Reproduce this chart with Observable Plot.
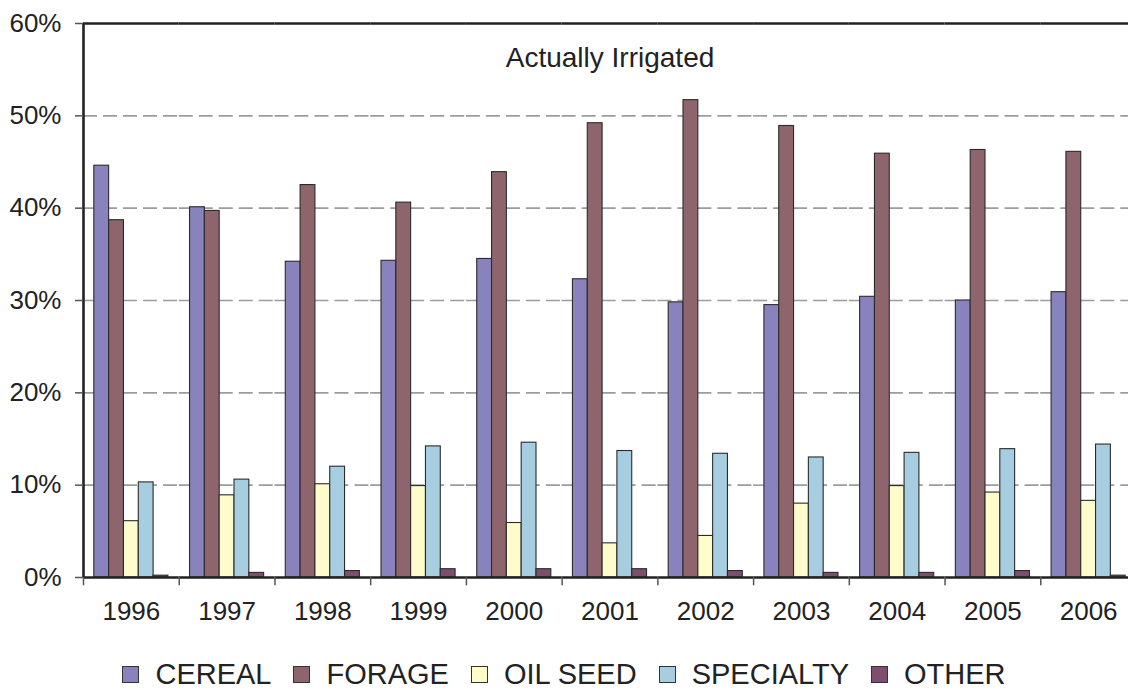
<!DOCTYPE html>
<html>
<head>
<meta charset="utf-8">
<script src="https://cdn.jsdelivr.net/npm/d3@7"></script>
<script src="https://cdn.jsdelivr.net/npm/@observablehq/plot@0.6"></script>
<style>
  html, body { margin: 0; padding: 0; background: #fff; overflow: hidden; width: 1128px; height: 690px; }
  #chart { width: 1128px; height: 640px; overflow: hidden; }
  #chart svg { display: block; max-width: none !important; }
  #legend {
    display: flex; justify-content: center; align-items: center;
    font-family: "Liberation Sans", Arial, sans-serif; font-size: 29px; line-height: 29px; color: #222;
    height: 30px; margin-top: 19px; padding-left: 0px;
  }
  .item { display: flex; align-items: center; margin: 0 11px; }
  .sw { width: 15px; height: 15px; border: 1px solid #333; margin-right: 16px; margin-top: 1px; }
</style>
</head>
<body>
<div id="chart"></div>
<div id="legend"></div>
<script>
// ---- data ----
const years = ["1996","1997","1998","1999","2000","2001","2002","2003","2004","2005","2006"];
const categories = ["CEREAL","FORAGE","OIL SEED","SPECIALTY","OTHER"];
const cereal    = [44.6, 40.1, 34.2, 34.3, 34.5, 32.3, 29.8, 29.5, 30.4, 30.0, 30.9];
const forage    = [38.7, 39.7, 42.5, 40.6, 43.9, 49.2, 51.7, 48.9, 45.9, 46.3, 46.1];
const oilSeed   = [6.1, 8.9, 10.1, 9.9, 5.9, 3.7, 4.5, 8.0, 9.9, 9.2, 8.3];
const specialty = [10.3, 10.6, 12.0, 14.2, 14.6, 13.7, 13.4, 13.0, 13.5, 13.9, 14.4];
const other     = [0.2, 0.5, 0.7, 0.9, 0.9, 0.9, 0.7, 0.5, 0.5, 0.7, 0.2];
const yTicks = [0, 10, 20, 30, 40, 50, 60];
const gridTicks = [10, 20, 30, 40, 50];
const title = "Actually Irrigated";

// ---- styles ----
const colors = ["#8882bd", "#8e656d", "#fffbcb", "#a6cee0", "#7e4e6e"];
const W = 1136, H = 640, mL = 83, mR = 0, mT = 23, mB = 63;
const padOuter = 0.73;
const fxStep = (W - mL - mR) / years.length;
const xStep = fxStep / (categories.length + 2 * padOuter);
const edgeDx = -(padOuter * xStep + xStep / 2);
const tickBelow = -0.9;

const series = [cereal, forage, oilSeed, specialty, other];
const data = years.flatMap((year, i) => categories.map((c, j) => ({year, category: c, value: series[j][i]})));

const chart = Plot.plot({
  width: W, height: H,
  marginLeft: mL, marginRight: mR, marginTop: mT, marginBottom: mB,
  style: {fontFamily: "Liberation Sans, Arial, sans-serif", fontSize: "26px", color: "#222", background: "#fff", overflow: "visible", maxWidth: "none"},
  fx: {domain: years, padding: 0, round: false, axis: null, label: null},
  x: {domain: categories, paddingInner: 0, paddingOuter: padOuter, align: 0.5, round: false, axis: null},
  y: {domain: [0, 60], axis: null, label: null},
  color: {domain: categories, range: colors},
  marks: [
    Plot.gridY({ticks: gridTicks, stroke: "#9c9c9c", strokeOpacity: 1, strokeWidth: 1.6, strokeDasharray: "14,6"}),
    Plot.barY(data, {fx: "year", x: "category", y: "value", fill: "category", stroke: "#2b2b2b", strokeWidth: 1.1}),
    Plot.ruleY([0], {stroke: "#222", strokeWidth: 2.6}),
    Plot.ruleY([60], {stroke: "#222", strokeWidth: 2.6}),
    Plot.ruleX(years, {fx: d => d, x: () => categories[0], y1: 0, y2: tickBelow, dx: edgeDx, stroke: "#555", strokeWidth: 1.5}),
    Plot.ruleX([years[0]], {fx: d => d, x: () => categories[0], y1: 0, y2: 60, dx: edgeDx, stroke: "#222", strokeWidth: 2.6}),
    Plot.axisY({ticks: yTicks, tickFormat: d => d + "%", tickSize: 8, tickPadding: 14, fontSize: 26, stroke: "#555", strokeWidth: 1.5, label: null}),
    Plot.axisFx({anchor: "bottom", tickSize: 0, tickPadding: 24, fontSize: 26, label: null}),
    Plot.text([title], {fx: () => years[5], frameAnchor: "top", lineAnchor: "middle", dy: 35, fontSize: 28, fill: "#222"})
  ]
});
document.getElementById("chart").appendChild(chart);

const legend = document.getElementById("legend");
categories.forEach((c, j) => {
  const item = document.createElement("div");
  item.className = "item";
  const sw = document.createElement("div");
  sw.className = "sw";
  sw.style.background = colors[j];
  const t = document.createElement("span");
  t.textContent = c;
  item.appendChild(sw);
  item.appendChild(t);
  legend.appendChild(item);
});
</script>
</body>
</html>
